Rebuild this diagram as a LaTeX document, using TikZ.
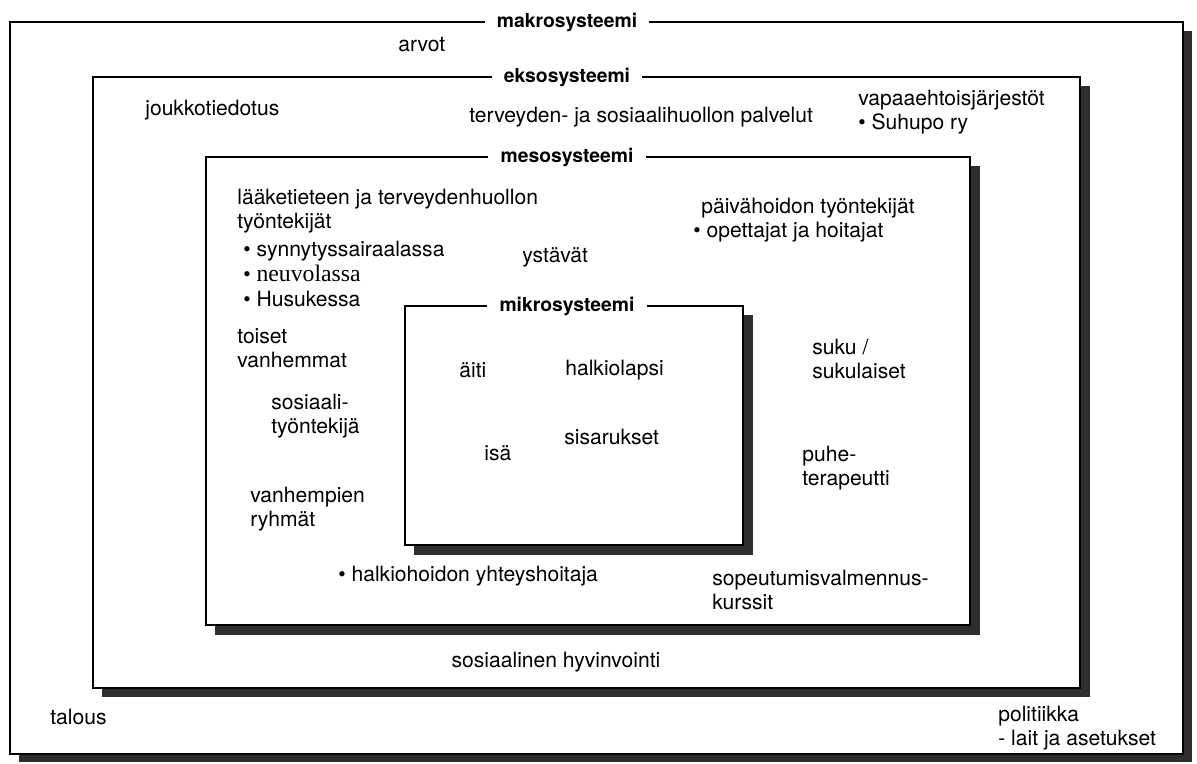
\documentclass[tikz,border=0pt]{standalone}
\usepackage{fontspec}
\setmainfont{TeX Gyre Heros}
\newfontfamily\serifpart{Liberation Serif}
\usetikzlibrary{positioning}

\begin{document}
\begin{tikzpicture}[
  x=0.02cm, y=-0.02cm,
  font=\fontsize{12}{14}\selectfont,
  txt/.style={inner sep=0pt,anchor=west,align=left},
  title/.style={font=\fontsize{11}{13}\selectfont\bfseries,fill=white,
                inner xsep=7pt,inner ysep=1pt},
  frame/.style={line width=1.4pt,fill=white},
  shade/.style={fill=black!82,draw=none},
]
\useasboundingbox (0,0) rectangle (1197,764);

% shadows and frames, outside in
\fill[shade] (19,31) rectangle (1192,762);
\draw[frame] (10,22) rectangle (1183,754);
\fill[shade] (102,86) rectangle (1090,697);
\draw[frame] (93,77) rectangle (1080,688);
\fill[shade] (215,166) rectangle (980,635);
\draw[frame] (206,157) rectangle (970,625);
\fill[shade] (414,315) rectangle (753,555);
\draw[frame] (405,306) rectangle (743,545);

% system names on the frame lines
\node[title] (makro) at (567,22) {makrosysteemi};
\node[title] (ekso) at (567,77) {eksosysteemi};
\node[title] (meso) at (567,157) {mesosysteemi};
\node[title] (mikro) at (567,306) {mikrosysteemi};

% makrosysteemi
\node[txt] (arvot) at (398,45) {arvot};
\node[txt] (talous) at (50,717) {talous};
\node[txt] (politiikka) at (998,728) {politiikka\\- lait ja asetukset};

% eksosysteemi
\node[txt] (joukko) at (145,110) {joukkotiedotus};
\node[txt] (palvelut) at (469,117) {terveyden- ja sosiaalihuollon palvelut};
\node[txt] (vapaa) at (858,112) {vapaaehtoisjärjestöt\\\textbullet{} Suhupo ry};
\node[anchor=center,inner sep=0pt] (hyvinvointi) at (556,662) {sosiaalinen hyvinvointi};

% mesosysteemi
\node[txt] (laake) at (237,211) {lääketieteen ja terveydenhuollon\\työntekijät};
\node[txt] (paikat) at (243,274) {\textbullet{} synnytyssairaalassa\\
   \textbullet{} {\serifpart\fontsize{13.5}{14}\selectfont neuvolassa}\\\textbullet{} Husukessa};
\node[txt] (ystavat) at (522,257) {ystävät};
\node[txt] (paiva) at (701,208) {päivähoidon työntekijät};
\node[txt] (opettajat) at (693,232) {\textbullet{} opettajat ja hoitajat};
\node[txt] (toiset) at (237,348) {toiset\\vanhemmat};
\node[txt] (sostyo) at (271,416) {sosiaali-\\työntekijä};
\node[txt] (ryhmat) at (250,509) {vanhempien\\ryhmät};
\node[txt] (yhteys) at (338,576) {\textbullet{} halkiohoidon yhteyshoitaja};
\node[txt] (kurssit) at (712,590) {sopeutumisvalmennus-\\kurssit};
\node[txt] (suku) at (812,359) {suku /\\sukulaiset};
\node[txt] (puhe) at (802,468) {puhe-\\terapeutti};

% mikrosysteemi
\node[txt] (aiti) at (459,370) {äiti};
\node[txt] (lapsi) at (565,370) {halkiolapsi};
\node[txt] (isa) at (484,453) {isä};
\node[txt] (sisarukset) at (564,437) {sisarukset};
\end{tikzpicture}
\end{document}
